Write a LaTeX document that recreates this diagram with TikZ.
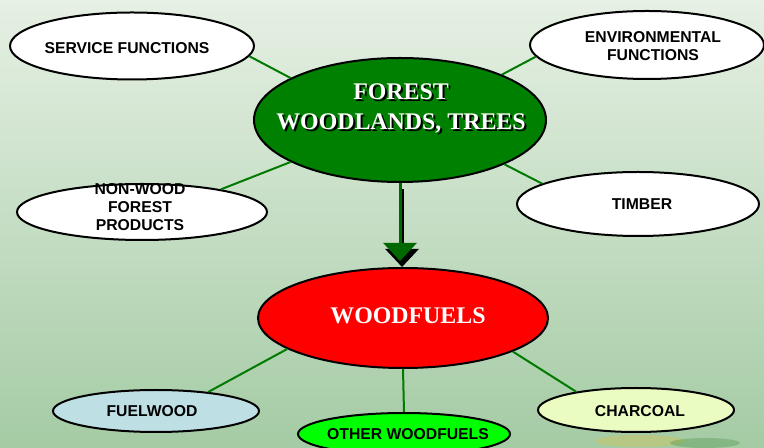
\documentclass[tikz,border=0pt]{standalone}
\usepackage{fontspec}
\setmainfont{Liberation Serif}
\setsansfont{Liberation Sans}
\usetikzlibrary{shapes.geometric,arrows.meta}
\definecolor{bgtop}{HTML}{E6F0E4}
\definecolor{bgbot}{HTML}{A4CBA4}
\definecolor{lgreen}{HTML}{007A00}
\definecolor{fgreen}{HTML}{008000}
\definecolor{fuelblue}{HTML}{BEDFE4}
\definecolor{charyel}{HTML}{EAFCC2}
\definecolor{brightgreen}{HTML}{00FF00}
\tikzset{
  bub/.style n args={3}{ellipse, draw=black, line width=1.5pt, fill=#1,
    minimum width=#2*0.75pt, minimum height=#3*0.75pt, inner sep=0pt},
  lbl/.style={font=\sffamily\bfseries\fontsize{11.8}{13.3}\selectfont, align=center, inner sep=0pt, text=black},
  serlbl/.style={font=\rmfamily\bfseries\fontsize{17.9}{22.5}\selectfont, align=center, inner sep=0pt},
  conn/.style={draw=lgreen, line width=1.5pt},
  bigarrow/.style={line width=2.25pt, -{Triangle[width=24.75pt,length=13.5pt]}, shorten >=4.5pt}
}
\begin{document}
\begin{tikzpicture}[x=0.75pt,y=-0.75pt]
\shade[top color=bgtop, bottom color=bgbot] (0,0) rectangle (764,448);
\useasboundingbox (0,0) rectangle (764,448);
% faint background image remnants bottom right
\fill[orange!55!yellow, opacity=0.2] (640,441) ellipse [x radius=45, y radius=6];
\fill[green!40!black, opacity=0.2] (705,443) ellipse [x radius=35, y radius=5];
% ellipses
\node[bub={white}{244}{67}] (svc) at (132,46) {};
\node[bub={white}{234}{68}] (env) at (647,45) {};
\node[bub={fgreen}{292}{124}] (forest) at (400,120) {};
\node[bub={white}{250}{56}] (nonwood) at (142,212) {};
\node[bub={white}{242}{64}] (timber) at (638,204) {};
\node[bub={red}{290}{100}] (woodfuels) at (403,318) {};
\node[bub={fuelblue}{206}{42}] (fuelwood) at (156,411) {};
\node[bub={brightgreen}{212}{42}] (other) at (404,434) {};
\node[bub={charyel}{196}{44}] (charcoal) at (636,410) {};
% connectors
\draw[conn] (svc.-5) -- (forest.159);
\draw[conn] (env.186) -- (forest.24);
\draw[conn] (nonwood.16) -- (forest.201);
\draw[conn] (timber.168) -- (forest.-23);
\draw[conn] (woodfuels.195) -- (fuelwood.20);
\draw[conn] (woodfuels.south) -- (other.north);
\draw[conn] (woodfuels.-17) -- (charcoal.163);
% main arrow with shadow
\draw[bigarrow, black, transform canvas={xshift=1.5pt, yshift=-4.5pt}] (forest.south) -- (forest.south |- woodfuels.north);
\draw[bigarrow, lgreen!85!black] (forest.south) -- (forest.south |- woodfuels.north);
% texts
\node[lbl] (svct) at (127,48) {SERVICE FUNCTIONS};
\node[lbl] (envt) at (653,46) {ENVIRONMENTAL\\FUNCTIONS};
\node[serlbl, text=black] (forestsh) at (403,110) {FOREST\\WOODLANDS, TREES};
\node[serlbl, text=white] (forestt) at (401,108) {FOREST\\WOODLANDS, TREES};
\node[lbl] (nonwoodt) at (140,207) {NON-WOOD\\FOREST\\PRODUCTS};
\node[lbl] (timbert) at (642,204) {TIMBER};
\node[serlbl, text=white] (woodfuelst) at (408,316) {WOODFUELS};
\node[lbl] (fuelwoodt) at (152,411) {FUELWOOD};
\node[lbl] (othert) at (408,434) {OTHER WOODFUELS};
\node[lbl] (charcoalt) at (640,411) {CHARCOAL};
\end{tikzpicture}
\end{document}
